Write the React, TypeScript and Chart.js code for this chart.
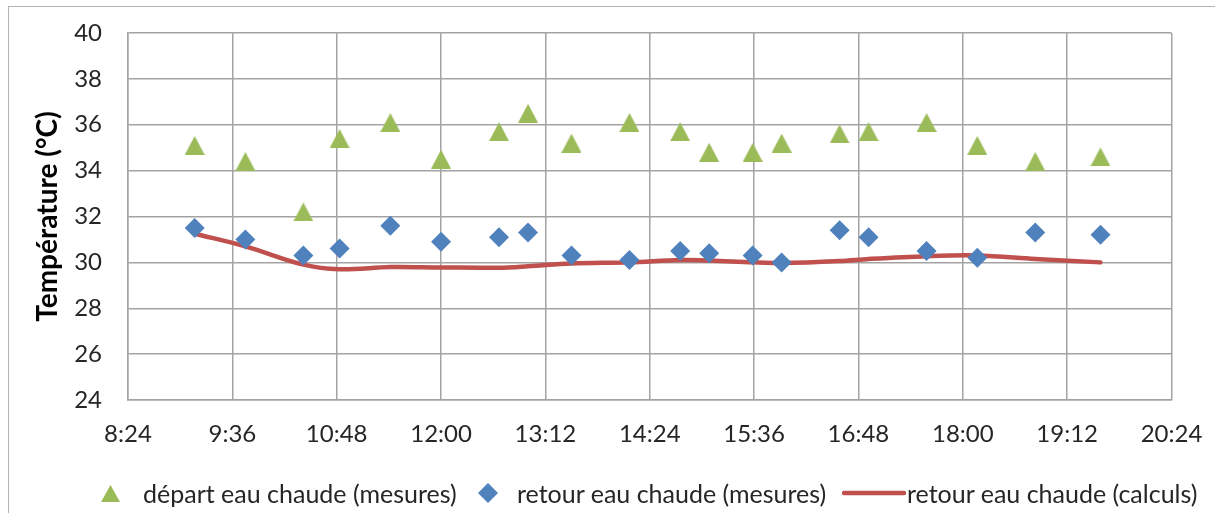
import React, { useEffect, useRef } from "react";
import { Chart, registerables } from "chart.js";

Chart.register(...registerables);

// ---- data ----
const times = [
  "9:10", "9:45", "10:25", "10:50", "11:25", "12:00", "12:40", "13:00", "13:30", "14:10",
  "14:45", "15:05", "15:35", "15:55", "16:35", "16:55", "17:35", "18:10", "18:50", "19:35",
];
const departMesures = [
  35.1, 34.4, 32.2, 35.4, 36.1, 34.5, 35.7, 36.5, 35.2, 36.1,
  35.7, 34.8, 34.8, 35.2, 35.6, 35.7, 36.1, 35.1, 34.4, 34.6,
];
const retourMesures = [
  31.5, 31.0, 30.3, 30.6, 31.6, 30.9, 31.1, 31.3, 30.3, 30.1,
  30.5, 30.4, 30.3, 30.0, 31.4, 31.1, 30.5, 30.2, 31.3, 31.2,
];
const retourCalculs = [
  31.25, 30.7, 29.9, 29.7, 29.8, 29.78, 29.77, 29.83, 29.95, 30.0,
  30.1, 30.08, 30.0, 29.97, 30.06, 30.15, 30.27, 30.3, 30.15, 30.0,
];
const xTickLabels = ["8:24", "9:36", "10:48", "12:00", "13:12", "14:24", "15:36", "16:48", "18:00", "19:12", "20:24"];
const yMin = 24;
const yMax = 40;
const yStep = 2;
const seriesNames = [
  "départ eau chaude (mesures)",
  "retour eau chaude (mesures)",
  "retour eau chaude (calculs)",
];
const yTitle = "Température (°C)";

const toMin = (t: string) => {
  const [h, m] = t.split(":").map(Number);
  return h * 60 + m;
};

const FONT = "Lato, 'Open Sans', sans-serif";
const GREEN = "#9BBB59";
const BLUE = "#4F81BD";
const RED = "#C0504D";
const GRID = "#a3a3a3";
const TEXT = "#262626";

function makeTriangle(w: number, h: number, color: string) {
  const c = document.createElement("canvas");
  c.width = w;
  c.height = h;
  const g = c.getContext("2d")!;
  g.fillStyle = color;
  g.beginPath();
  g.moveTo(w / 2, 0);
  g.lineTo(w, h);
  g.lineTo(0, h);
  g.closePath();
  g.fill();
  return c;
}

export default function App() {
  const ref = useRef<HTMLCanvasElement | null>(null);

  useEffect(() => {
    if (!ref.current) return;
    const tri = makeTriangle(20, 19, GREEN);
    const xs = times.map(toMin);
    const xMin = toMin(xTickLabels[0]);
    const xMax = toMin(xTickLabels[xTickLabels.length - 1]);
    const step = (xMax - xMin) / (xTickLabels.length - 1);

    const chart = new Chart(ref.current, {
      type: "scatter",
      data: {
        datasets: [
          {
            label: seriesNames[0],
            data: xs.map((x, i) => ({ x, y: departMesures[i] })),
            pointStyle: tri as any,
            pointRadius: 10,
            backgroundColor: GREEN,
            borderColor: GREEN,
            showLine: false,
          },
          {
            label: seriesNames[1],
            data: xs.map((x, i) => ({ x, y: retourMesures[i] })),
            pointStyle: "rectRot",
            pointRadius: 10,
            borderWidth: 0,
            backgroundColor: BLUE,
            borderColor: BLUE,
            showLine: false,
          },
          {
            label: seriesNames[2],
            data: xs.map((x, i) => ({ x, y: retourCalculs[i] })),
            showLine: true,
            pointRadius: 0,
            borderColor: RED,
            backgroundColor: RED,
            borderWidth: 4.5,
            tension: 0.35,
            borderCapStyle: "round",
          } as any,
        ],
      },
      options: {
        animation: false,
        responsive: false,
        maintainAspectRatio: false,
        layout: { padding: { top: 33, right: 43.5, left: 0, bottom: 53 } },
        plugins: { legend: { display: false }, tooltip: { enabled: false } },
        scales: {
          x: {
            type: "linear",
            min: xMin,
            max: xMax,
            afterFit: (s: any) => {
              s.height = 60;
            },
            ticks: {
              stepSize: step,
              padding: 0,
              color: TEXT,
              font: { family: FONT, size: 24 },
              maxRotation: 0,
              callback: (_v: any, i: number) => xTickLabels[i],
            },
            grid: { color: GRID, lineWidth: 1.5, drawTicks: true, tickLength: 20, tickColor: "rgba(0,0,0,0)" },
            border: { color: GRID, width: 1.5 },
          },
          y: {
            min: yMin,
            max: yMax,
            afterFit: (s: any) => {
              s.width = 128;
            },
            ticks: {
              stepSize: yStep,
              padding: 0,
              color: TEXT,
              font: { family: FONT, size: 24 },
            },
            grid: { color: GRID, lineWidth: 1.5, drawTicks: true, tickLength: 26, tickColor: "rgba(0,0,0,0)" },
            border: { color: GRID, width: 1.5 },
            title: {
              display: true,
              text: yTitle,
              color: "#000",
              font: { family: FONT, size: 28, weight: "bold" },
              padding: { top: 31, bottom: 0 },
            },
          },
        },
      } as any,
    });
    return () => chart.destroy();
  }, []);

  const legendText: React.CSSProperties = {
    fontFamily: FONT,
    fontSize: 25,
    color: TEXT,
    whiteSpace: "nowrap",
    lineHeight: "28px",
  };
  const item = (left: number): React.CSSProperties => ({
    position: "absolute",
    left,
    top: 0,
    height: 28,
    display: "flex",
    alignItems: "center",
  });

  return (
    <div
      style={{
        position: "fixed",
        left: 0,
        top: 0,
        width: 1215,
        height: 513,
        background: "#fff",
        overflow: "hidden",
      }}
    >
      <div
        style={{
          position: "absolute",
          left: 8,
          top: 6,
          width: 1240,
          height: 540,
          border: "1.5px solid #b3b3b3",
          boxSizing: "border-box",
        }}
      />
      <canvas ref={ref} width={1215} height={513} style={{ position: "absolute", left: 0, top: 0 }} />
      <div style={{ position: "absolute", left: 0, top: 479, width: 1215, height: 28 }}>
        <div style={item(101)}>
          <svg width={19} height={17} style={{ marginRight: 23 }}>
            <polygon points="9.5,0 19,17 0,17" fill={GREEN} />
          </svg>
          <span style={legendText}>{seriesNames[0]}</span>
        </div>
        <div style={item(478)}>
          <svg width={20} height={20} style={{ marginRight: 19 }}>
            <polygon points="10,0 20,10 10,20 0,10" fill={BLUE} />
          </svg>
          <span style={legendText}>{seriesNames[1]}</span>
        </div>
        <div style={item(842)}>
          <svg width={64} height={6} style={{ marginRight: 1 }}>
            <line x1={2} y1={3} x2={62} y2={3} stroke={RED} strokeWidth={4.5} strokeLinecap="round" />
          </svg>
          <span style={legendText}>{seriesNames[2]}</span>
        </div>
      </div>
    </div>
  );
}
